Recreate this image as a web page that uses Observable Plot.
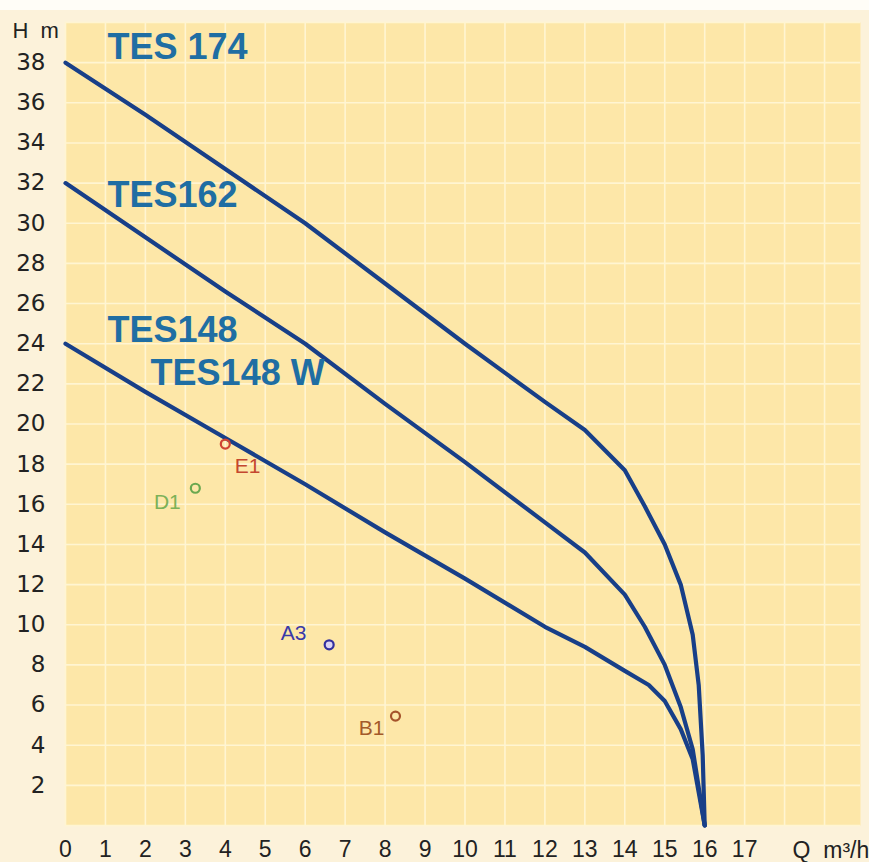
<!DOCTYPE html>
<html>
<head>
<meta charset="utf-8">
<script src="https://cdn.jsdelivr.net/npm/d3@7"></script>
<script src="https://cdn.jsdelivr.net/npm/@observablehq/plot@0.6"></script>
<style>
  html, body { margin: 0; padding: 0; background: linear-gradient(#fffdf7 0 10px, #fcf2da 10px); }
  #chart svg { display: block; }
</style>
</head>
<body>
<div id="chart"></div>
<script>
// Pump curves: flow Q (m³/h) vs head H (m)
const tes174Q = [0, 2, 4, 6, 8, 10, 12, 13, 14, 14.5, 15, 15.4, 15.7, 15.85, 15.95, 16];
const tes174H = [38, 35.4, 32.7, 30.0, 27.0, 24.0, 21.1, 19.7, 17.7, 15.9, 14, 12, 9.5, 7, 3.5, 0];

const tes162Q = [0, 2, 4, 6, 8, 10, 12, 13, 14, 14.5, 15, 15.4, 15.7, 16];
const tes162H = [32, 29.3, 26.6, 24, 21.0, 18.1, 15.1, 13.6, 11.5, 9.9, 8, 5.9, 3.8, 0];

const tes148Q = [0, 2, 4, 6, 8, 10, 12, 13, 14, 14.6, 15, 15.4, 15.7, 16];
const tes148H = [24, 21.6, 19.3, 17.0, 14.6, 12.3, 9.9, 8.9, 7.7, 7.0, 6.2, 4.8, 3.3, 0];

// Operating points
const pointNames = ["E1", "D1", "A3", "B1"];
const pointQ = [4.0, 3.25, 6.6, 8.26];
const pointH = [19.0, 16.8, 9.0, 5.45];
const pointStroke = ["#cf4434", "#6aa84f", "#33309e", "#a5532b"];
const pointFill = ["none", "none", "#dcd4f4", "none"];
const pointLabelQ = [4.56, 2.55, 5.71, 7.66];
const pointLabelH = [17.9, 16.1, 9.6, 4.83];
const pointLabelColor = ["#c4472f", "#7cb158", "#3a3aa8", "#a35a2a"];

// Series labels
const seriesLabels = ["TES 174", "TES162", "TES148", "TES148 W"];
const seriesLabelQ = [1.05, 1.05, 1.05, 2.13];
const seriesLabelH = [38.75, 31.4, 24.65, 22.5];

// Axis ticks
const xTicks = d3.range(0, 18);
const yTicks = d3.range(2, 39, 2);
const xGrid = d3.range(0, 20);
const yGrid = d3.range(0, 41, 2);

const curves = [
  ...tes174Q.map((q, i) => ({series: "TES 174", q, h: tes174H[i]})),
  ...tes162Q.map((q, i) => ({series: "TES162", q, h: tes162H[i]})),
  ...tes148Q.map((q, i) => ({series: "TES148", q, h: tes148H[i]}))
];
const points = pointNames.map((name, i) => ({
  name, q: pointQ[i], h: pointH[i], stroke: pointStroke[i], fill: pointFill[i],
  lq: pointLabelQ[i], lh: pointLabelH[i], lc: pointLabelColor[i]
}));
const labels = seriesLabels.map((t, i) => ({t, q: seriesLabelQ[i], h: seriesLabelH[i]}));

const chart = Plot.plot({
  width: 869,
  height: 862,
  marginLeft: 65,
  marginRight: 9,
  marginTop: 22,
  marginBottom: 37,
  style: {background: "transparent", fontFamily: "'Liberation Sans', Arial, sans-serif", fontSize: "22px", color: "#222"},
  x: {domain: [0, 19.9]},
  y: {domain: [0, 40]},
  marks: [
    Plot.frame({fill: "#fde7a8", stroke: null}),
    Plot.gridX(xGrid, {stroke: "#fff5d2", strokeOpacity: 1, strokeWidth: 1.6}),
    Plot.gridY(yGrid, {stroke: "#fff5d2", strokeOpacity: 1, strokeWidth: 1.6}),
    Plot.axisX(xTicks, {tickSize: 0, tickPadding: 15, fontSize: 23, label: null, fill: "#222"}),
    Plot.axisY(yTicks, {tickSize: 0, tickPadding: 20, fontSize: 23, fontFamily: "'DejaVu Sans', sans-serif", label: null, fill: "#222"}),
    Plot.line(curves, {x: "q", y: "h", z: "series", stroke: "#183f88", strokeWidth: 4.2, strokeLinejoin: "round", strokeLinecap: "round"}),
    Plot.text(labels, {x: "q", y: "h", text: "t", textAnchor: "start", lineAnchor: "middle", fontSize: 36, fontWeight: "bold", fill: "#1f6ea3"}),
    Plot.dot(points, {x: "q", y: "h", r: 4.5, stroke: "stroke", fill: "fill", strokeWidth: 2.2}),
    Plot.text(points, {x: "lq", y: "lh", text: "name", fontSize: 21, fill: "lc", lineAnchor: "middle"}),
    Plot.text(["H  m"], {frameAnchor: "top-left", dx: -53, dy: 15, textAnchor: "start", lineAnchor: "bottom", fontSize: 22, fill: "#222"}),
    Plot.text([{q: 18.2}], {x: "q", text: () => "Q  m³/h", frameAnchor: "bottom", dy: 25, textAnchor: "start", lineAnchor: "middle", fontSize: 23, fill: "#222"})
  ]
});
document.getElementById("chart").appendChild(chart);
</script>
</body>
</html>
